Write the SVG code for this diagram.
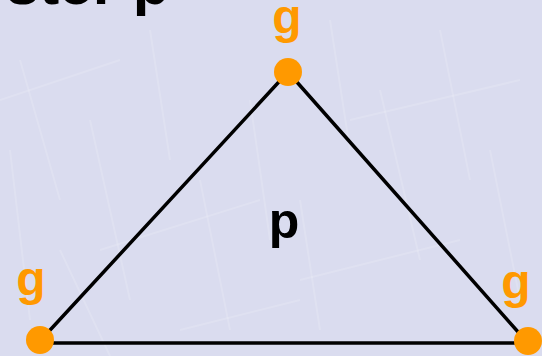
<svg xmlns="http://www.w3.org/2000/svg" width="542" height="356" viewBox="0 0 542 356">
  <defs>
    <style>
      .edge { stroke: #000; stroke-width: 3.5; fill: none; stroke-linecap: round; }
      .dot { fill: #ff9900; }
      .lbl { font-family: "Liberation Sans", Arial, sans-serif; font-weight: bold; font-size: 48px; fill: #ff9900; text-anchor: middle; }
      .mid { font-family: "Liberation Sans", Arial, sans-serif; font-weight: bold; font-size: 50px; fill: #000; text-anchor: middle; }
      .title { font-family: "Liberation Sans", Arial, sans-serif; font-weight: bold; font-size: 60px; fill: #000; }
      .tex { stroke: #ffffff; stroke-opacity: 0.15; stroke-width: 2; fill: none; }
    </style>
  </defs>
  <rect x="0" y="0" width="542" height="356" fill="#dadcef"/>
  <g id="texture">
    <path class="tex" d="M20 60 L60 200 M90 120 L130 300 M150 30 L170 160 M200 180 L230 330 M330 20 L350 150 M380 90 L420 260 M440 30 L470 180 M490 150 L520 300 M60 250 L110 356 M300 200 L320 330 M250 100 L270 240 M10 150 L30 320"/>
    <path class="tex" d="M0 100 L120 60 M100 250 L260 200 M300 280 L460 240 M350 120 L520 80 M180 330 L300 300"/>
  </g>
  <text class="title" x="6" y="4">ster p</text>
  <g id="connectors">
    <line class="edge" x1="288" y1="72" x2="40" y2="341"/>
    <line class="edge" x1="288" y1="72" x2="527" y2="342"/>
    <line class="edge" x1="40" y1="343" x2="527" y2="343"/>
  </g>
  <g id="node-top">
    <circle class="dot" cx="288" cy="72" r="14"/>
    <text class="lbl" x="287" y="33">g</text>
  </g>
  <g id="node-left">
    <circle class="dot" cx="40" cy="340" r="14"/>
    <text class="lbl" x="31" y="295">g</text>
  </g>
  <g id="node-right">
    <circle class="dot" cx="528" cy="341" r="14"/>
    <text class="lbl" x="516" y="298">g</text>
  </g>
  <g id="node-center">
    <text class="mid" x="284" y="238">p</text>
  </g>
</svg>
